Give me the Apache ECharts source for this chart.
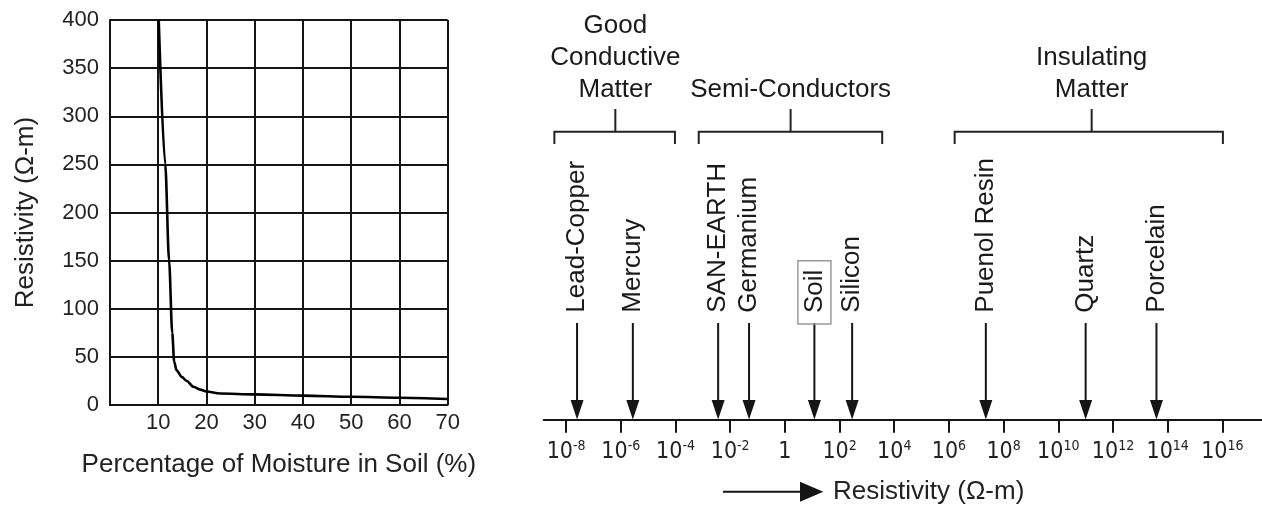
<!DOCTYPE html>
<html><head><meta charset="utf-8">
<script src="https://cdn.jsdelivr.net/npm/echarts@6/dist/echarts.min.js"></script>
<style>html,body{margin:0;padding:0;background:#fff}#c{width:1262px;height:506px}</style>
</head><body><div id="c"></div>
<script>
// Left chart: soil resistivity vs moisture
const moisture = [10.1, 11.45, 12.25, 12.9, 13.3, 13.8, 14.9, 15.9, 17.3, 18.7, 20, 22.8, 30, 40, 50, 60, 70];
const soilResistivity = [400, 250, 150, 75, 45, 36, 29, 25, 19, 16, 14, 12, 11, 9.7, 8.6, 7.6, 6.2];
const moistureTicks = [0, 10, 20, 30, 40, 50, 60, 70];

// Right chart: resistivity scale (log10 exponent of Ω-m)
const materialNames = ['Lead-Copper', 'Mercury', 'SAN-EARTH', 'Germanium', 'Soil', 'Silicon', 'Puenol Resin', 'Quartz', 'Porcelain'];
const materialExp = [-7.6, -5.56, -2.44, -1.31, 1.08, 2.46, 7.35, 11.0, 13.59];
const materialBoxed = [false, false, false, false, true, false, false, false, false];
const groupNames = ['Good\nConductive\nMatter', 'Semi-Conductors', 'Insulating\nMatter'];
const groupStart = [-8.43, -3.15, 6.21];
const groupEnd = [-4.02, 3.56, 16.02];
const groupCenter = [-6.2, 0.21, 11.22];
const expTicks = [-8, -6, -4, -2, 0, 2, 4, 6, 8, 10, 12, 14, 16];

const FONT = '"Liberation Sans", Arial, sans-serif';
const NARROW = '"Liberation Sans Narrow", "DejaVu Sans Condensed", "Liberation Sans", sans-serif';
const INK = '#151515';

const chart = echarts.init(document.getElementById('c'), null, {renderer: 'canvas'});

const option = {
  backgroundColor: '#fff',
  animation: false,
  grid: [
    {left: 110, top: 20, width: 337.7, height: 385},
    {left: 543.7, right: 0, top: 10, bottom: 86}
  ],
  xAxis: [
    {
      gridIndex: 0, type: 'value', min: 0, max: 70, interval: 10,
      axisLine: {show: true, lineStyle: {color: INK, width: 2}},
      axisTick: {show: false},
      axisLabel: {formatter: v => v === 0 ? '' : String(v), fontSize: 22, fontFamily: FONT, color: '#222', margin: 7},
      splitLine: {show: true, lineStyle: {color: INK, width: 2}},
      name: 'Percentage of Moisture in Soil (%)', nameLocation: 'middle', nameGap: 47,
      nameTextStyle: {fontSize: 26, fontFamily: FONT, color: '#222'}
    },
    {
      gridIndex: 1, type: 'value', min: -8.82, max: 17.45,
      axisLine: {show: true, lineStyle: {color: INK, width: 2}},
      axisTick: {show: true, customValues: expTicks, length: 12.7, lineStyle: {color: INK, width: 2}},
      axisLabel: {
        customValues: expTicks, margin: 19,
        formatter: v => v === 0 ? '{b|1}' : '{b|10}{s|' + v + '}',
        rich: {
          b: {fontSize: 23, fontFamily: NARROW, color: '#222', lineHeight: 25, verticalAlign: 'bottom'},
          s: {fontSize: 14, fontFamily: NARROW, color: '#222', lineHeight: 14, verticalAlign: 'top'}
        }
      },
      splitLine: {show: false}
    }
  ],
  yAxis: [
    {
      gridIndex: 0, type: 'value', min: 0, max: 400, interval: 50,
      axisLine: {show: true, lineStyle: {color: INK, width: 2}},
      axisTick: {show: false},
      axisLabel: {fontSize: 22, fontFamily: FONT, color: '#222', margin: 11},
      splitLine: {show: true, lineStyle: {color: INK, width: 2}},
      name: 'Resistivity (Ω-m)', nameLocation: 'middle', nameGap: 71,
      nameTextStyle: {fontSize: 26, fontFamily: FONT, color: '#222'}
    },
    {gridIndex: 1, type: 'value', min: 0, max: 1, show: false}
  ],
  graphic: [
    {type: 'line', shape: {x1: 723, y1: 491.7, x2: 803, y2: 491.7}, style: {stroke: INK, lineWidth: 2}},
    {type: 'polygon', shape: {points: [[800, 481.7], [800, 501.7], [823.3, 491.7]]}, style: {fill: INK}},
    {type: 'text', x: 833, y: 491.7, style: {text: 'Resistivity (Ω-m)', font: '26px ' + FONT, fill: '#222', verticalAlign: 'middle'}}
  ],
  series: [
    {
      type: 'line', xAxisIndex: 0, yAxisIndex: 0,
      data: moisture.map((m, i) => [m, soilResistivity[i]]),
      smooth: 0.3, smoothMonotone: 'x', showSymbol: false,
      lineStyle: {color: '#000', width: 2.6}
    },
    {
      type: 'custom', xAxisIndex: 1, yAxisIndex: 1, clip: false,
      data: materialExp.map(e => [e, 0]),
      renderItem: (params, api) => {
        const i = params.dataIndex;
        const p = api.coord([api.value(0), 0]);
        const x = p[0], y0 = p[1];
        const boxed = materialBoxed[i];
        const st = {text: materialNames[i], font: '26px ' + FONT, fill: '#1a1a1a', align: 'left', verticalAlign: 'middle'};
        if (boxed) { Object.assign(st, {padding: [4, 9, 3, 11], borderColor: '#9a9a9a', borderWidth: 1.5, lineHeight: 26}); }
        return {type: 'group', children: [
          {type: 'line', shape: {x1: x, y1: y0 - 97, x2: x, y2: y0 - 18}, style: {stroke: INK, lineWidth: 2}},
          {type: 'polygon', shape: {points: [[x - 6.5, y0 - 20], [x + 6.5, y0 - 20], [x, y0 - 0.5]]}, style: {fill: INK}},
          {type: 'text', x: x, y: boxed ? y0 - 96 : y0 - 107.3, rotation: Math.PI / 2, style: st}
        ]};
      }
    },
    {
      type: 'custom', xAxisIndex: 1, yAxisIndex: 1, clip: false,
      data: groupStart.map((s, i) => [s, groupEnd[i], groupCenter[i]]),
      renderItem: (params, api) => {
        const i = params.dataIndex;
        const y0 = api.coord([0, 0])[1];
        const xs = api.coord([api.value(0), 0])[0];
        const xe = api.coord([api.value(1), 0])[0];
        const xc = api.coord([api.value(2), 0])[0];
        const yT = y0 - 288.3;
        return {type: 'group', children: [
          {type: 'polyline', shape: {points: [[xs, y0 - 276], [xs, yT], [xe, yT], [xe, y0 - 276]]}, style: {stroke: '#222', lineWidth: 2, fill: null}},
          {type: 'line', shape: {x1: xc, y1: yT, x2: xc, y2: y0 - 311}, style: {stroke: '#222', lineWidth: 2}},
          {type: 'text', x: xc, y: y0 - 314, style: {text: groupNames[i], font: '26px ' + FONT, fill: '#1a1a1a', align: 'center', verticalAlign: 'bottom', lineHeight: 32}}
        ]};
      }
    }
  ]
};
chart.setOption(option);
</script>
</body></html>
